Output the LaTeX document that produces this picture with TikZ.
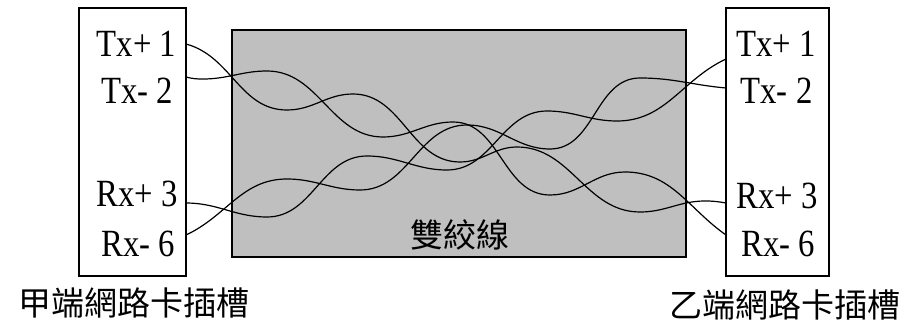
\documentclass[tikz,border=0pt]{standalone}
\usepackage{fontspec}
\setmainfont{Liberation Serif}
\newfontfamily\pinfont[FakeStretch=0.85]{Liberation Serif}
\newfontfamily\cjk{Noto Sans CJK TC}
\tikzset{
    slotbox/.style={draw=black, line width=1.3pt, fill=white, minimum height=268pt, inner sep=0pt},
    cablebox/.style={draw=black, line width=1.3pt, fill=black!25, minimum width=454pt, minimum height=227pt, inner sep=0pt},
    pinlabel/.style={anchor=base, inner sep=0pt, font=\pinfont\fontsize{38.5}{40}\selectfont},
    caption/.style={inner sep=0pt, font=\cjk\fontsize{33}{38}\selectfont},
    wire/.style={black, line width=1.2pt},
    wave/.style={out=0, in=180}
}

\begin{document}
\begin{tikzpicture}[x=1pt, y=-1pt]
            \useasboundingbox (0,0) rectangle (914,326);

            \node[cablebox] (cable) at (459,143.5) {};
            \node[slotbox, minimum width=107pt] (slota) at (132.5,142) {};
            \node[slotbox, minimum width=103pt] (slotb) at (777.5,142) {};

            \node[pinlabel] (atxp) at (136.5,56.5) {Tx+ 1};
            \node[pinlabel] (atxn) at (137,104) {Tx- 2};
            \node[pinlabel] (arxp) at (137,206.5) {Rx+ 3};
            \node[pinlabel] (arxn) at (138,256.5) {Rx- 6};

            \node[pinlabel] (btxp) at (776,56.5) {Tx+ 1};
            \node[pinlabel] (btxn) at (776.5,104) {Tx- 2};
            \node[pinlabel] (brxp) at (777,209) {Rx+ 3};
            \node[pinlabel] (brxn) at (778,256.5) {Rx- 6};

            \node[caption] (capa) at (134,303) {甲端網路卡插槽};
            \node[caption] (capb) at (785,305) {乙端網路卡插槽};
            \node[caption] (capc) at (460,235) {雙絞線};

            \coordinate (a1) at (186,44);
            \coordinate (a2) at (186,77);
            \coordinate (a3) at (186,203);
            \coordinate (a6) at (186,235);
            \coordinate (b1) at (726,59);
            \coordinate (b2) at (726,88);
            \coordinate (b3) at (726,203);
            \coordinate (b6) at (726,235);

            \draw[wire] (a1) to[out=-15, in=180] (287,110) to[wave] (353,94) to[wave] (460,162) to[wave] (517,147) to[wave] (640,212) to[wave] (705,201) to[out=0, in=170] (b3);
            \draw[wire] (a2) to[out=-15, in=180] (203,79) to[wave] (267,71) to[wave] (383,137) to[wave] (453,122) to[wave] (550,195) to[wave] (625,172) to[out=0, in=145] (b6);
            \draw[wire] (a3) to[wave] (267,217) to[wave] (367,156) to[wave] (447,170) to[wave] (547,111) to[wave] (617,121) to[out=0, in=205] (b1);
            \draw[wire] (a6) to[out=25, in=180] (287,179) to[wave] (360,190) to[wave] (467,125) to[wave] (550,149) to[wave] (640,78) to[out=0, in=175] (b2);
        \end{tikzpicture}
\end{document}
